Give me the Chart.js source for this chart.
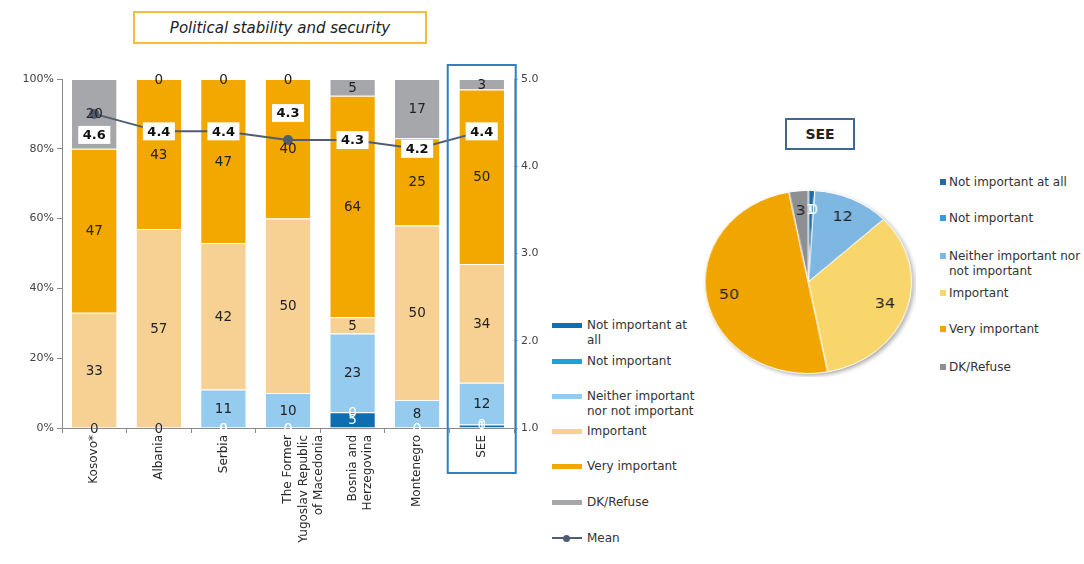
<!DOCTYPE html>
<html><head><meta charset="utf-8">
<script src="https://cdn.jsdelivr.net/npm/chart.js@4.4.1/dist/chart.umd.min.js"></script>
<style>
html,body{margin:0;padding:0;background:#fff;}
body{width:1084px;height:564px;position:relative;overflow:hidden;font-family:"DejaVu Sans",sans-serif;color:#2b2b2b;}
#title{position:absolute;left:133px;top:11px;width:290px;height:29px;border:2px solid #f2bd3c;font-style:italic;font-size:15px;display:flex;align-items:center;justify-content:center;color:#222;}
#barWrap{position:absolute;left:0;top:0;width:545px;height:564px;}
#pieTitle{position:absolute;left:785px;top:118px;width:66px;height:28px;border:2px solid #3d6a92;font-weight:bold;font-size:14px;display:flex;align-items:center;justify-content:center;color:#222;}
#pieWrap{position:absolute;left:701px;top:187px;width:190px;height:190px;transform-origin:0 0;transform:scaleX(1.129);}
.lg{position:absolute;font-size:12px;line-height:15px;color:#333;white-space:pre;}
.sw{position:absolute;width:30px;height:5px;}
.pm{position:absolute;width:6px;height:6px;}
</style></head>
<body>
<div id="title">Political stability and security</div>
<div id="barWrap"><canvas id="bar" width="545" height="564"></canvas></div>
<div id="pieTitle">SEE</div>
<div id="pieWrap"><canvas id="pie" width="190" height="190"></canvas></div>
<div id="legends"></div>
<script>
// ---- data ----
const categories = ['Kosovo*','Albania','Serbia',['The Former','Yugoslav Republic','of Macedonia'],['Bosnia and','Herzegovina'],'Montenegro','SEE'];
const seriesNames = ['Not important at all','Not important','Neither important nor not important','Important','Very important','DK/Refuse'];
const notAtAll      = [0, 0, 0, 0, 4.5, 0, 1];
const notImportant  = [0, 0, 0, 0, 0, 0, 0];
const neither       = [0, 0, 11, 10, 22.6, 8, 12];
const important     = [33, 57, 42, 50, 4.6, 50, 34];
const veryImportant = [47, 43, 47, 40, 63.5, 25, 50];
const dkRefuse      = [20, 0, 0, 0, 4.8, 17, 3];
const meanScores    = [4.6, 4.4, 4.4, 4.3, 4.3, 4.2, 4.4];
const seePie        = [1, 0, 12, 34, 50, 3];
const pctTicks      = [0, 20, 40, 60, 80, 100];
const meanTicks     = [1, 2, 3, 4, 5];

// ---- styles ----
const FONT = '"DejaVu Sans", sans-serif';
const barColors = ['#0f6db2','#1ea0db','#94cbef','#f6d193','#f3a800','#a5a7aa'];
const labelColors = ['#fff','#fff','#222','#222','#222','#222'];
const pieColors = ['#1d6aa5','#2f9fd8','#7eb7e2','#f8d66b','#f0a500','#8d8f92'];
const meanColor = '#4f5c72';
const barSeries = [notAtAll, notImportant, neither, important, veryImportant, dkRefuse];

const segLabels = {
  id:'segLabels',
  afterDatasetsDraw(chart){
    const ctx = chart.ctx;
    ctx.save();
    ctx.textAlign='center'; ctx.textBaseline='middle';
    ctx.font = '13.5px ' + FONT;
    chart.data.datasets.forEach((ds,i)=>{
      if(ds.type==='line') return;
      const meta = chart.getDatasetMeta(i);
      meta.data.forEach((el,j)=>{
        ctx.fillStyle = labelColors[i];
        ctx.fillText(String(Math.round(ds.data[j])), el.x, (el.y+el.base)/2 + 1);
      });
    });
    // mean labels
    const li = chart.data.datasets.findIndex(d=>d.type==='line');
    const lm = chart.getDatasetMeta(li);
    const offs = [21,0,0,-27,0,0,0];
    ctx.font = 'bold 13px ' + FONT;
    lm.data.forEach((pt,j)=>{
      const t = meanScores[j].toFixed(1);
      const w = ctx.measureText(t).width + 9, h = 18;
      const cy = pt.y + offs[j];
      ctx.fillStyle='#fff'; ctx.fillRect(pt.x-w/2, cy-h/2, w, h);
      ctx.fillStyle='#111'; ctx.fillText(t, pt.x, cy+1);
    });
    ctx.restore();
  },
  afterDraw(chart){
    const ctx = chart.ctx, ca = chart.chartArea;
    const x = chart.scales.x.getPixelForValue(6);
    ctx.save();
    ctx.strokeStyle='#2f7fc1'; ctx.lineWidth=2;
    ctx.strokeRect(x-34, ca.top-14, 68, (ca.bottom+45)-(ca.top-14));
    ctx.restore();
  }
};

const datasets = barSeries.map((d,i)=>({
  type:'bar', label:seriesNames[i], data:d, backgroundColor:barColors[i],
  borderColor:'#fff', borderWidth:{top:1,bottom:0,left:0,right:0}, borderSkipped:'start',
  stack:'s', yAxisID:'y', order:1, categoryPercentage:1, barPercentage:0.69
}));
datasets.push({
  type:'line', label:'Mean', data:meanScores, yAxisID:'y2', borderColor:meanColor, borderWidth:2,
  pointRadius:4, pointBackgroundColor:meanColor, pointBorderColor:meanColor, order:0, tension:0
});

new Chart(document.getElementById('bar'), {
  data:{labels:categories, datasets},
  options:{
    responsive:false, animation:false, events:[],
    layout:{padding:{top:79,left:0,right:0,bottom:0}},
    plugins:{legend:{display:false}, tooltip:{enabled:false}},
    scales:{
      x:{stacked:true, offset:true,
        grid:{offset:true, drawOnChartArea:false, drawTicks:true, tickLength:5, color:'#8a8a8a'},
        border:{display:true, color:'#8a8a8a'},
        ticks:{maxRotation:90, minRotation:90, autoSkip:false, font:{size:12, family:FONT, lineHeight:1.3}, color:'#2a2a2a', padding:2},
        afterFit(s){ s.height = 136; }
      },
      y:{stacked:true, position:'left', min:0, max:100,
        afterBuildTicks(s){ s.ticks = pctTicks.map(v=>({value:v})); },
        ticks:{callback:v=>v+'%', font:{size:11, family:FONT}, color:'#444', padding:3},
        grid:{drawOnChartArea:false, drawTicks:true, tickLength:5, color:'#8a8a8a'},
        border:{display:true, color:'#8a8a8a'},
        afterFit(s){ s.width = 62; }
      },
      y2:{position:'right', min:1, max:5,
        afterBuildTicks(s){ s.ticks = meanTicks.map(v=>({value:v})); },
        ticks:{callback:v=>Number(v).toFixed(1), font:{size:11, family:FONT}, color:'#444', padding:3},
        grid:{drawOnChartArea:false, drawTicks:true, tickLength:4, color:'#b0b0b0'},
        border:{display:true, color:'#c0c0c0'},
        afterFit(s){ s.width = 31; }
      }
    }
  },
  plugins:[segLabels]
});

const pieLabels = {
  id:'pieLabels',
  beforeDatasetsDraw(chart){
    const ctx = chart.ctx, a = chart.getDatasetMeta(0).data[0];
    if(!a) return;
    ctx.save();
    ctx.shadowColor='rgba(0,0,0,0.35)'; ctx.shadowBlur=4; ctx.shadowOffsetX=2; ctx.shadowOffsetY=2;
    ctx.fillStyle='#ddd';
    ctx.beginPath(); ctx.arc(a.x, a.y, a.outerRadius, 0, Math.PI*2); ctx.fill();
    ctx.restore();
  },
  afterDatasetsDraw(chart){
    const ctx = chart.ctx, meta = chart.getDatasetMeta(0);
    ctx.save(); ctx.font = '14px ' + FONT; ctx.textAlign='center'; ctx.textBaseline='middle';
    meta.data.forEach((arc,i)=>{
      const mid = (arc.startAngle+arc.endAngle)/2, r = arc.outerRadius*0.78;
      ctx.fillStyle = i<2 ? '#fff' : '#222';
      ctx.fillText(String(seePie[i]), arc.x+Math.cos(mid)*r, arc.y+Math.sin(mid)*r);
    });
    ctx.restore();
  }
};
new Chart(document.getElementById('pie'), {
  type:'pie',
  data:{labels:seriesNames, datasets:[{data:seePie, backgroundColor:pieColors, borderColor:'#fff', borderWidth:1}]},
  options:{responsive:false, animation:false, events:[], layout:{padding:3},
    plugins:{legend:{display:false}, tooltip:{enabled:false}}},
  plugins:[pieLabels]
});

// ---- HTML legends ----
const lg = document.getElementById('legends');
const barLegendText = ['Not important at\nall','Not important','Neither important\nnor not important','Important','Very important','DK/Refuse','Mean'];
const barLegendY = [325, 361, 396, 431, 466, 502, 538];
barLegendText.forEach((t,i)=>{
  const y = barLegendY[i];
  if(i<6){
    const s=document.createElement('div'); s.className='sw';
    s.style.left='552px'; s.style.top=(y-2.5)+'px'; s.style.background=barColors[i]; lg.appendChild(s);
  } else {
    const s=document.createElement('div'); s.className='sw';
    s.style.left='552px'; s.style.top=(y-1)+'px'; s.style.height='2px'; s.style.background=meanColor; lg.appendChild(s);
    const d=document.createElement('div');
    d.style.cssText='position:absolute;left:563px;top:'+(y-3.5)+'px;width:7px;height:7px;border-radius:50%;background:'+meanColor;
    lg.appendChild(d);
  }
  const tx=document.createElement('div'); tx.className='lg';
  tx.style.left='587px'; tx.style.top=(y-7.5)+'px'; tx.textContent=t; lg.appendChild(tx);
});
const pieLegendText = ['Not important at all','Not important','Neither important nor\nnot important','Important','Very important','DK/Refuse'];
const pieLegendY = [182, 218, 256, 293, 329, 367];
pieLegendText.forEach((t,i)=>{
  const y = pieLegendY[i];
  const s=document.createElement('div'); s.className='pm';
  s.style.left='940px'; s.style.top=(y-3)+'px'; s.style.background=pieColors[i]; lg.appendChild(s);
  const tx=document.createElement('div'); tx.className='lg';
  tx.style.left='949px'; tx.style.top=(y-7.5)+'px'; tx.textContent=t; lg.appendChild(tx);
});
</script>
</body></html>
